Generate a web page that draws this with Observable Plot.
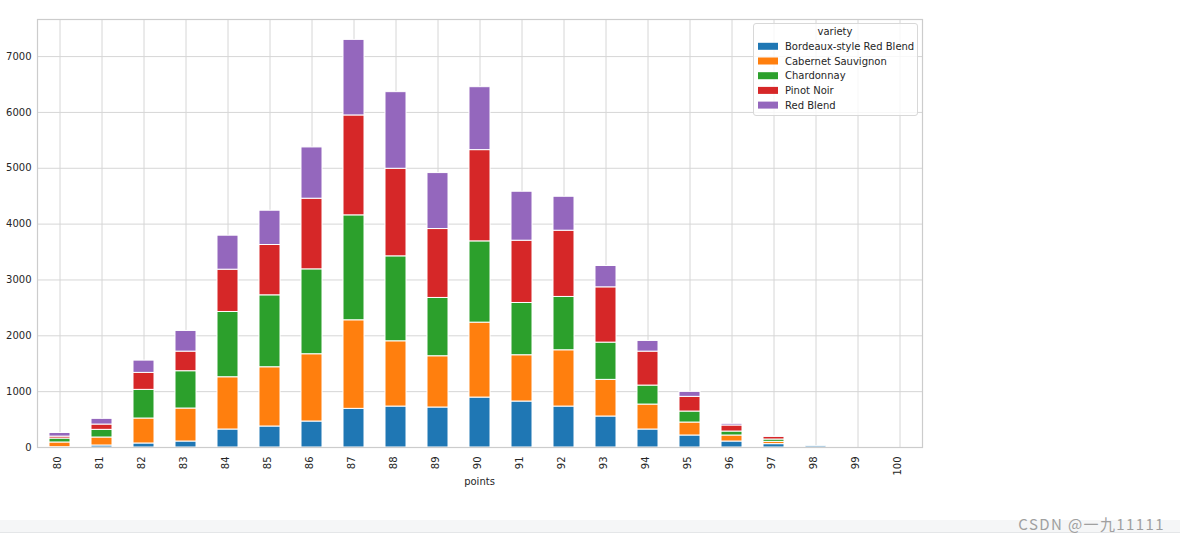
<!DOCTYPE html>
<html><head><meta charset="utf-8">
<script src="https://cdn.jsdelivr.net/npm/d3@7"></script>
<script src="https://cdn.jsdelivr.net/npm/@observablehq/plot@0.6"></script>
<style>
body{margin:0;background:#fff;}
#chart{position:relative;width:1180px;height:542px;overflow:hidden;background:#fff}
</style>
</head><body><div id="chart"></div>
<script>
const points = [80,81,82,83,84,85,86,87,88,89,90,91,92,93,94,95,96,97,98,99,100];
const varieties = ["Bordeaux-style Red Blend","Cabernet Sauvignon","Chardonnay","Pinot Noir","Red Blend"];
const colors = ["#1f77b4","#ff7f0e","#2ca02c","#d62728","#9467bd"];
const bordeaux  = [5,36,72,107,322,376,465,692,733,716,894,823,733,555,322,215,107,60,24,0,0];
const cabernet  = [85,143,447,591,936,1061,1205,1586,1169,918,1342,829,1008,656,447,232,108,41,0,0,0];
const chardonnay= [70,137,513,668,1169,1288,1520,1879,1521,1044,1455,936,955,667,340,197,71,42,0,0,0];
const pinotNoir = [35,95,304,351,757,901,1265,1789,1568,1234,1634,1115,1186,990,608,263,108,48,0,0,0];
const redBlend  = [65,102,220,370,609,614,918,1353,1372,1002,1127,877,608,382,191,89,30,5,0,0,0];
const yTicks = [0,1000,2000,3000,4000,5000,6000,7000];
const yMax = 7664;

const series = [bordeaux, cabernet, chardonnay, pinotNoir, redBlend];
const rows = [];
varieties.forEach((v, i) => points.forEach((p, j) => rows.push({points: String(p), variety: v, count: series[i][j]})));

const font = "DejaVu Sans, Liberation Sans, sans-serif";
const chart = Plot.plot({
  width: 1180, height: 542,
  marginLeft: 37, marginRight: 258, marginTop: 19, marginBottom: 95,
  style: {fontFamily: font, fontSize: "10px", color: "#262626", background: "white", overflow: "visible"},
  x: {domain: points.map(String), paddingInner: 0.5, paddingOuter: 0.25, align: 0.5, label: null},
  y: {domain: [0, yMax], label: null},
  color: {domain: varieties, range: colors},
  marks: [
    Plot.gridX({stroke: "#d6d6d6", strokeOpacity: 1, strokeWidth: 1}),
    Plot.gridY(yTicks, {stroke: "#d6d6d6", strokeOpacity: 1, strokeWidth: 1}),
    Plot.barY(rows, {x: "points", y: "count", fill: "variety", stroke: "white", strokeWidth: 1}),
    Plot.frame({stroke: "#cccccc", strokeWidth: 1.2}),
    Plot.axisX({tickRotate: -90, tickSize: 0, tickPadding: 9, label: null, fill: "#262626"}),
    Plot.axisY(yTicks, {tickSize: 0, tickPadding: 6, label: null, fill: "#262626", tickFormat: d => String(d)})
  ]
});
document.getElementById("chart").appendChild(chart);

const svg = d3.select(chart);
// nudge rotated x tick labels to sit centred under the bars
svg.selectAll('g[aria-label="x-axis tick label"]').each(function() {
  const g = d3.select(this);
  const t = g.attr("transform") || "";
  g.attr("transform", "translate(-2.5,0) " + t);
});

// x-axis title
svg.append("text").attr("x", 479.5).attr("y", 485).attr("text-anchor", "middle")
  .attr("font-family", font).attr("font-size", 10).attr("fill", "#262626").text("points");

// legend
const lg = svg.append("g").attr("text-anchor", "start");
lg.append("rect").attr("x", 753.5).attr("y", 23.5).attr("width", 164).attr("height", 92).attr("rx", 2.5)
  .attr("fill", "white").attr("fill-opacity", 0.8).attr("stroke", "#d8d8d8").attr("stroke-width", 1);
lg.append("text").attr("x", 835).attr("y", 35).attr("text-anchor", "middle")
  .attr("font-family", font).attr("font-size", 10).attr("fill", "#262626").text("variety");
varieties.forEach((v, i) => {
  const cy = 46.3 + i * 14.7;
  lg.append("rect").attr("x", 758).attr("y", cy - 3.5).attr("width", 20).attr("height", 7).attr("fill", colors[i]);
  lg.append("text").attr("x", 785).attr("y", cy + 3.6).attr("text-anchor", "start")
    .attr("font-family", font).attr("font-size", 10).attr("fill", "#262626").text(v);
});

// page footer band + watermark
svg.append("rect").attr("x", 0).attr("y", 520).attr("width", 1180).attr("height", 12).attr("fill", "#f5f6f7");
svg.append("line").attr("x1", 0).attr("x2", 1180).attr("y1", 532.5).attr("y2", 532.5).attr("stroke", "#e4e6e8");
svg.append("text").attr("x", 1165).attr("y", 530).attr("text-anchor", "end")
  .attr("font-family", "Noto Sans CJK SC, Noto Sans, sans-serif").attr("font-size", 15)
  .attr("letter-spacing", 1.4).attr("fill", "#a0a0a0")
  .text("CSDN @一九11111");
</script>
</body></html>
